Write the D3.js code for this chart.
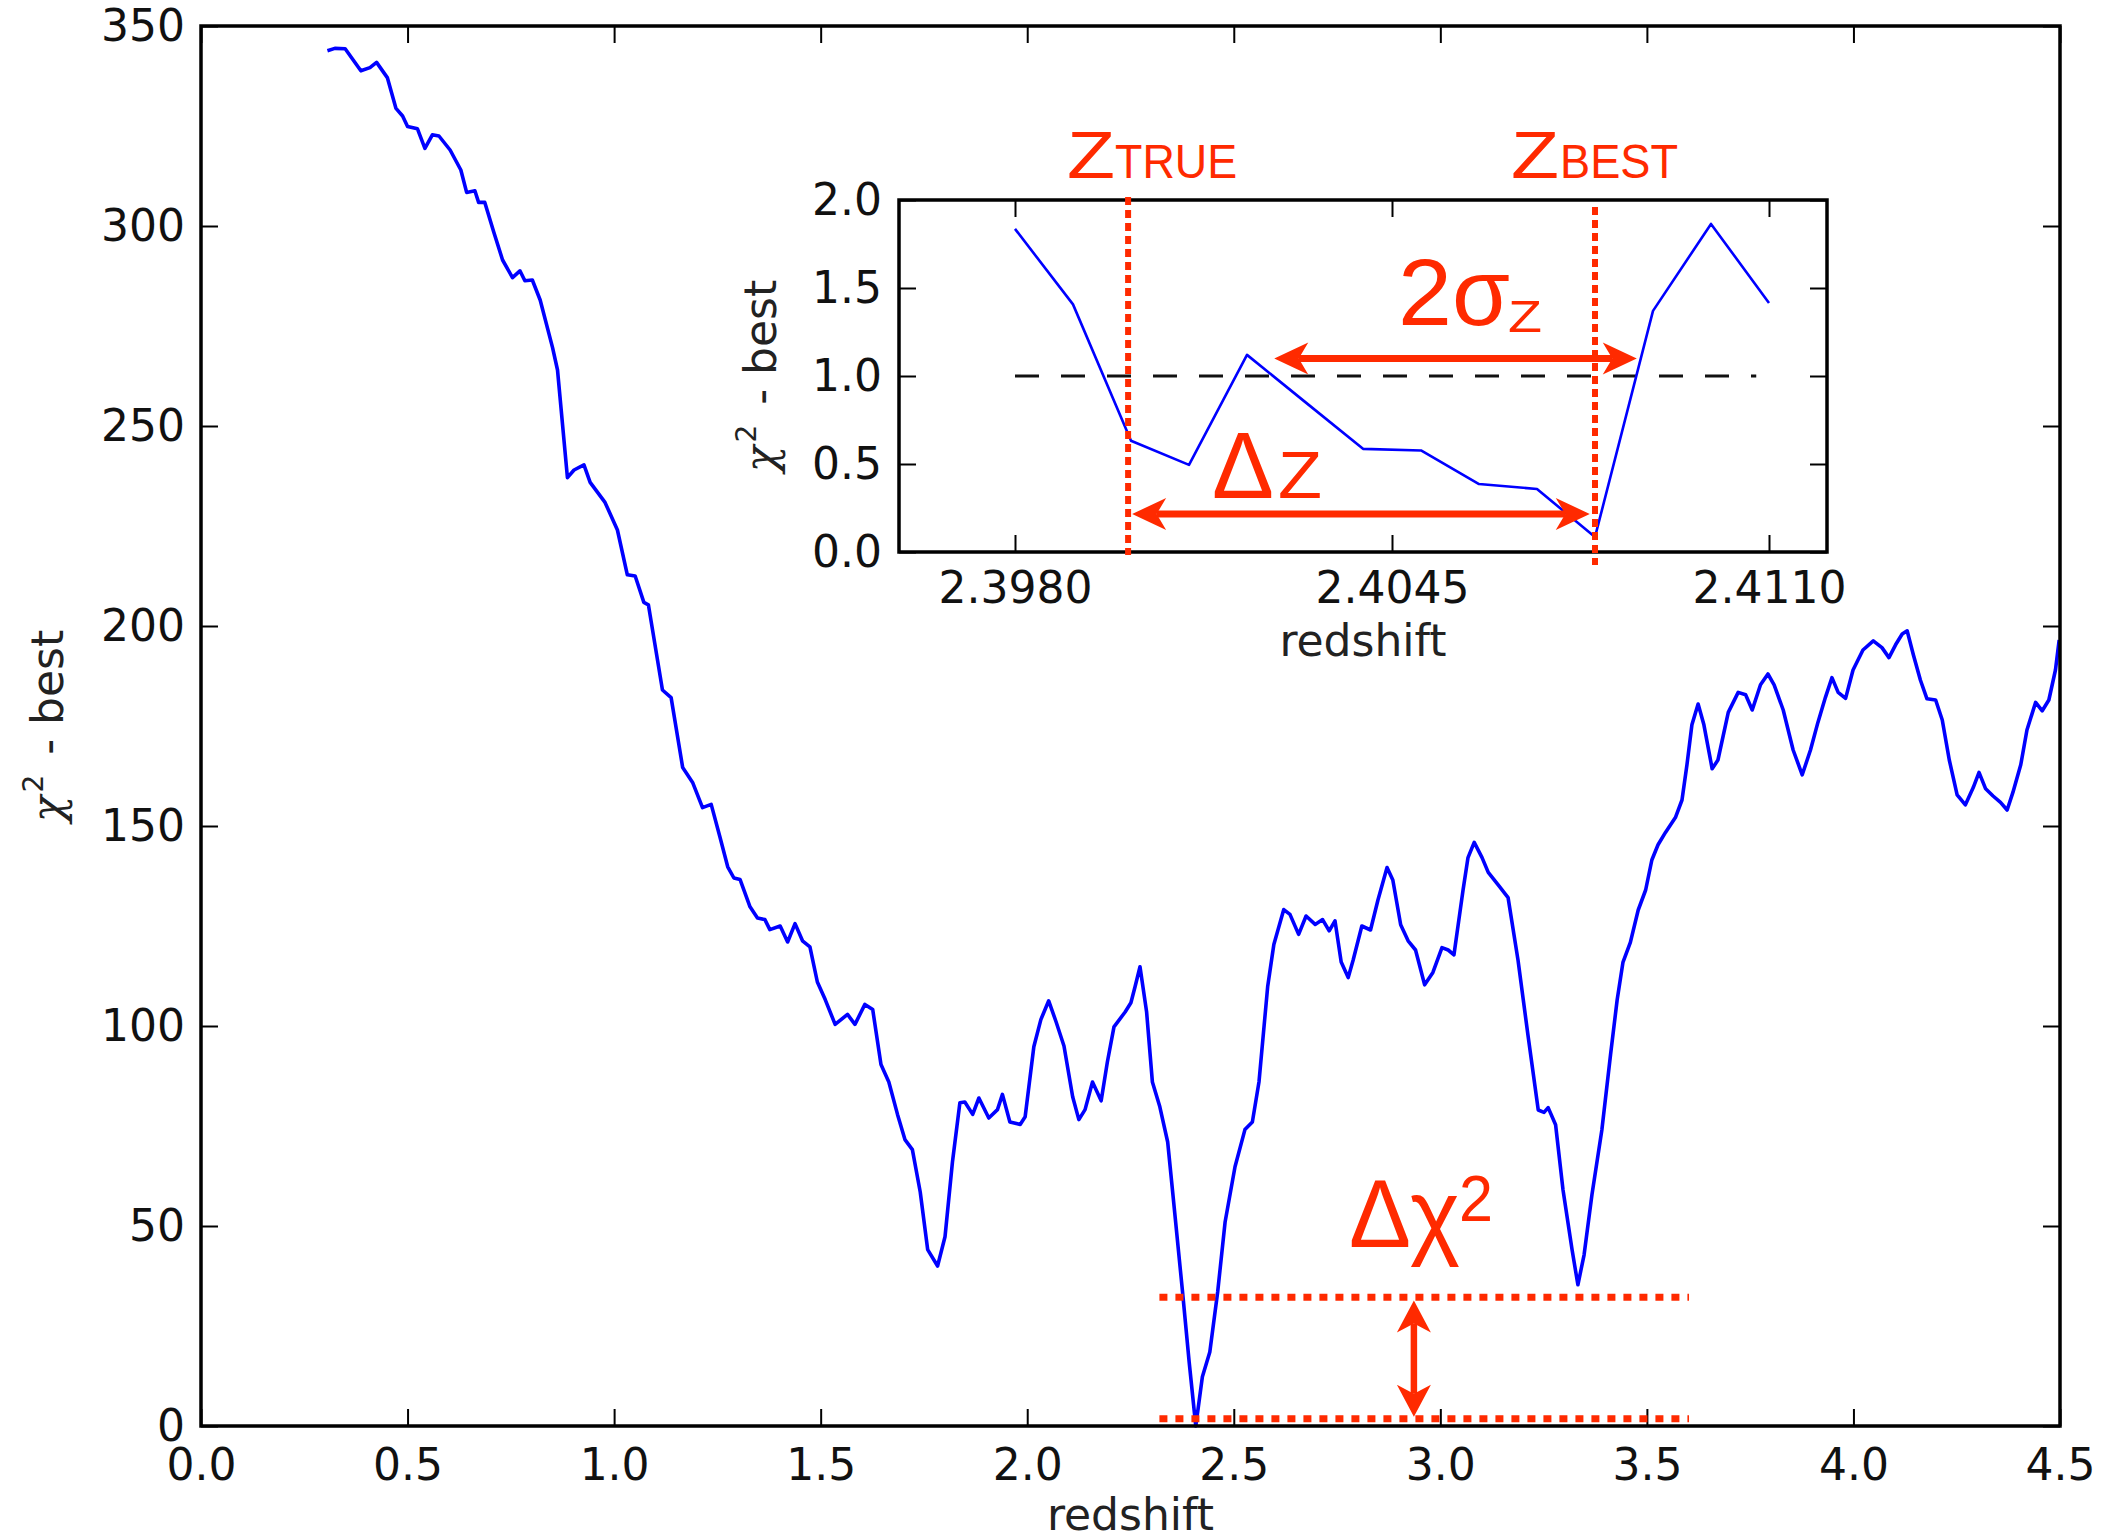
<!DOCTYPE html>
<html><head><meta charset="utf-8">
<script src="https://cdn.jsdelivr.net/npm/d3@7"></script>
<style>html,body{margin:0;padding:0;background:#fff}svg{display:block}</style>
</head><body>
<svg id="c" width="2127" height="1539"></svg>
<script>
// ---------- data ----------
const mainZ = [0.306,0.324,0.349,0.387,0.409,0.425,0.451,0.472,0.488,0.500,0.524,0.542,0.560,0.576,0.603,0.629,0.643,0.663,0.672,0.687,0.709,0.730,0.754,0.772,0.784,0.802,0.821,0.851,0.863,0.887,0.903,0.927,0.942,0.978,1.008,1.032,1.051,1.072,1.083,1.117,1.138,1.166,1.190,1.214,
1.235,1.256,1.275,1.290,1.305,1.329,1.347,1.365,1.377,1.402,1.420,1.438,1.456,1.474,1.492,1.511,1.535,1.565,1.583,1.607,1.626,1.646,1.665,1.686,1.704,1.722,1.741,1.759,1.783,1.801,1.819,1.837,1.849,1.868,1.883,1.907,1.928,1.940,1.958,1.983,1.995,2.016,2.033,2.052,2.070,2.089,2.110,2.125,2.140,2.158,2.179,2.194,2.210,2.237,2.251,2.261,2.273,2.289,2.303,2.321,2.340,2.358,2.376,2.392,2.408,2.424,2.442,2.461,2.479,2.503,2.527,2.545,2.561,2.582,2.597,2.621,2.636,2.657,2.675,2.697,2.715,2.731,2.745,2.760,
2.777,2.789,2.810,2.831,2.849,2.871,2.885,2.904,2.922,2.940,2.962,2.982,3.004,3.019,3.033,3.055,3.067,3.082,3.101,3.116,3.140,3.164,3.188,3.212,3.237,3.251,3.261,3.279,3.297,3.319,3.333,3.348,3.367,3.391,3.412,3.428,3.442,3.460,3.479,3.497,3.512,3.527,3.545,3.569,3.585,3.597,3.609,3.624,3.638,3.658,3.672,3.697,3.721,3.739,3.755,3.775,3.793,3.808,3.830,3.854,3.876,3.896,3.914,3.932,3.948,3.963,3.981,3.999,4.023,4.048,4.069,4.086,4.102,4.118,4.130,4.145,4.162,4.178,4.199,4.215,4.232,4.251,4.271,4.290,4.304,4.320,4.338,4.356,4.372,4.386,4.405,4.420,4.441,4.457,4.473,4.489,4.498];
const mainChi2 = [343.8,344.4,344.3,338.8,339.6,340.9,337.1,329.4,327.5,324.9,324.3,319.4,322.8,322.5,319.0,314.0,308.4,308.8,305.9,305.9,298.4,291.5,287.1,288.8,286.3,286.5,281.5,269.6,264.0,237.1,239.0,240.3,235.9,230.9,224.0,212.8,212.5,205.9,205.3,184.0,182.1,164.6,160.9,154.6,
155.4,147.3,139.8,137.0,136.6,129.8,127.0,126.6,124.1,125.0,121.0,125.6,121.3,119.8,111.0,106.6,100.4,102.9,100.4,105.4,104.1,90.4,86.0,77.9,71.6,69.1,58.5,44.1,40.0,47.3,66.0,80.8,81.0,77.9,82.0,77.0,79.1,82.9,76.0,75.4,77.3,94.8,101.6,106.3,101.0,95.0,82.3,76.6,79.1,86.0,81.3,91.0,99.8,103.5,105.8,109.8,114.8,103.5,86.0,79.8,71.0,52.3,33.5,16.0,0.0,12.3,18.5,33.5,51.0,64.8,74.1,76.0,86.0,109.8,120.4,129.1,127.9,122.9,127.5,125.4,126.6,123.8,126.3,116.0,
112.1,116.5,125.0,124.0,131.5,139.6,136.5,125.3,121.3,119.0,110.3,113.4,119.6,119.0,117.8,134.0,142.1,145.9,142.1,138.4,135.3,132.1,116.5,97.8,79.0,78.4,79.6,75.3,59.0,44.0,35.3,42.8,57.8,74.0,92.8,106.5,115.9,120.9,129.0,134.0,141.5,145.3,148.4,152.1,156.5,165.3,175.3,180.5,175.3,164.3,166.5,178.4,183.4,182.8,179.0,185.3,188.0,185.3,179.0,169.0,162.8,169.0,175.9,182.1,187.1,183.4,181.9,189.0,194.0,196.3,194.6,192.1,195.3,198.0,198.8,192.8,186.5,181.8,181.5,176.5,166.5,157.8,155.3,159.6,163.4,159.3,157.5,155.9,154.0,158.4,165.3,174.0,180.9,178.8,181.5,189.0,196.5];

const insetZ    = [2.398,2.399,2.400,2.401,2.402,2.403,2.404,2.405,2.406,2.407,2.408,2.409,2.410,2.411];
const insetChi2 = [1.836,1.407,0.632,0.495,1.120,0.853,0.586,0.577,0.386,0.358,0.085,1.370,1.864,1.415];

const mainXTicks  = [0,0.5,1,1.5,2,2.5,3,3.5,4,4.5];
const mainYTicks  = [0,50,100,150,200,250,300,350];
const insetXTicks = [2.398,2.4045,2.411];
const insetYTicks = [0,0.5,1,1.5,2];

const oneSigmaLevel = 1.0;
const zTrue = 2.39995, zBest = 2.408;
const sigmaArrowZ = [2.40247, 2.40872], sigmaArrowLevel = 1.10;
const deltaZArrowZ = [2.40002, 2.40791], deltaZArrowLevel = 0.216;
const dChi2Levels = [32.2, 1.8], dChi2SpanZ = [2.32, 3.602];
const dChi2ArrowZ = 2.936, dChi2ArrowLevels = [31.4, 2.3];

// ---------- setup ----------
const RED = "#ff2a00";
const svg = d3.select("#c");
const FONT = "DejaVu Sans";
const AFONT = "Liberation Sans, Arial, Helvetica, sans-serif";

const x = d3.scaleLinear().domain([0,4.5]).range([201,2060]);
const y = d3.scaleLinear().domain([0,350]).range([1426,26]);
const xi = d3.scaleLinear().domain([2.396,2.412]).range([899,1827]);
const yi = d3.scaleLinear().domain([0,2]).range([552,200]);

function styleAxis(g){
  g.select(".domain").remove();
  g.attr("font-family",FONT).attr("font-size",44);
  g.selectAll(".tick line").attr("stroke","#000").attr("stroke-width",2);
  g.selectAll(".tick text").attr("fill","#111");
}
function frame(sx, sy, ticksX, ticksY, fx, fy, padX, padY){
  const [x0,x1]=sx.range(), [y0,y1]=sy.range();
  const TS = -17;
  styleAxis(svg.append("g").attr("transform",`translate(0,${y0})`)
    .call(d3.axisBottom(sx).tickValues(ticksX).tickSize(TS).tickPadding(padX).tickFormat(fx)));
  styleAxis(svg.append("g").attr("transform",`translate(0,${y1})`)
    .call(d3.axisTop(sx).tickValues(ticksX).tickSize(TS).tickFormat("")));
  styleAxis(svg.append("g").attr("transform",`translate(${x0},0)`)
    .call(d3.axisLeft(sy).tickValues(ticksY).tickSize(TS).tickPadding(padY).tickFormat(fy)));
  styleAxis(svg.append("g").attr("transform",`translate(${x1},0)`)
    .call(d3.axisRight(sy).tickValues(ticksY).tickSize(TS).tickFormat("")));
  svg.append("rect").attr("x",x0).attr("y",y1).attr("width",x1-x0).attr("height",y0-y1)
    .attr("fill","none").attr("stroke","#000").attr("stroke-width",3.5);
}
function chiLabel(tx, ty){
  const t = svg.append("text").attr("transform",`translate(${tx},${ty}) rotate(-90)`)
    .attr("text-anchor","middle").attr("font-family",FONT).attr("font-size",44).attr("fill","#222");
  t.append("tspan").attr("font-family","DejaVu Serif").attr("font-style","italic").attr("font-weight",300).text("χ");
  t.append("tspan").attr("font-size",28).attr("dy",-20).attr("dx",3).text("2");
  t.append("tspan").attr("dy",20).attr("dx",6).text(" - best");
}
function doubleArrow(p1, p2, len, hw, lw){
  const dx=p2[0]-p1[0], dy=p2[1]-p1[1], L=Math.hypot(dx,dy), ux=dx/L, uy=dy/L, nx=-uy, ny=ux;
  const notch = len*0.72;
  svg.append("line")
    .attr("x1",p1[0]+ux*notch).attr("y1",p1[1]+uy*notch)
    .attr("x2",p2[0]-ux*notch).attr("y2",p2[1]-uy*notch)
    .attr("stroke",RED).attr("stroke-width",lw);
  function head(tip, d){
    const bx=tip[0]+d[0]*len, by=tip[1]+d[1]*len;
    const pts=[tip,[bx+nx*hw,by+ny*hw],[tip[0]+d[0]*notch,tip[1]+d[1]*notch],[bx-nx*hw,by-ny*hw]];
    svg.append("path").attr("d",d3.line()(pts)+"Z").attr("fill",RED);
  }
  head(p1,[ux,uy]); head(p2,[-ux,-uy]);
}
function atext(txt, px, py, size, len){
  const t = svg.append("text").attr("x",px).attr("y",py).attr("font-family",AFONT)
    .attr("font-size",size).attr("fill",RED).text(txt);
  if(len) t.attr("textLength",len).attr("lengthAdjust","spacingAndGlyphs");
  return t;
}

// ---------- main plot ----------
const mainData = mainZ.map((z,i)=>[z,mainChi2[i]]);
svg.append("path").datum(mainData)
  .attr("d", d3.line().x(d=>x(d[0])).y(d=>y(d[1])))
  .attr("fill","none").attr("stroke","#0000ff").attr("stroke-width",3.6).attr("stroke-linejoin","round");

frame(x, y, mainXTicks, mainYTicks, d3.format(".1f"), d3.format("d"), 23, 16);

svg.append("text").attr("x",(x.range()[0]+x.range()[1])/2).attr("y",1530)
  .attr("text-anchor","middle").attr("font-family",FONT).attr("font-size",44).attr("fill","#222").text("redshift");
chiLabel(63, (y.range()[0]+y.range()[1])/2);

// Δχ² annotation
dChi2Levels.forEach(v=>{
  svg.append("line").attr("x1",x(dChi2SpanZ[0])).attr("x2",x(dChi2SpanZ[1]))
    .attr("y1",y(v)).attr("y2",y(v)).attr("stroke",RED).attr("stroke-width",7)
    .attr("stroke-dasharray","8,8");
});
doubleArrow([x(dChi2ArrowZ),y(dChi2ArrowLevels[0])],[x(dChi2ArrowZ),y(dChi2ArrowLevels[1])],32,17,6.5);
{
  const ax = x(dChi2ArrowZ);
  atext("Δ", ax-65, 1247, 97, 62);
  atext("χ", ax-4, 1247, 97, 50);
  atext("2", ax+45, 1221, 64, 34);
}

// ---------- inset ----------
svg.append("rect").attr("x",899).attr("y",200).attr("width",928).attr("height",352).attr("fill","#fff");
svg.append("line").attr("x1",xi(insetZ[0])).attr("x2",xi(2.41078))
  .attr("y1",yi(oneSigmaLevel)).attr("y2",yi(oneSigmaLevel))
  .attr("stroke","#111").attr("stroke-width",3).attr("stroke-dasharray","24,22");
const insetData = insetZ.map((z,i)=>[z,insetChi2[i]]);
svg.append("path").datum(insetData)
  .attr("d", d3.line().x(d=>xi(d[0])).y(d=>yi(d[1])))
  .attr("fill","none").attr("stroke","#0000ff").attr("stroke-width",2.6).attr("stroke-linejoin","round");

frame(xi, yi, insetXTicks, insetYTicks, d3.format(".4f"), d3.format(".1f"), 20, 17);

svg.append("text").attr("x",(xi.range()[0]+xi.range()[1])/2).attr("y",656)
  .attr("text-anchor","middle").attr("font-family",FONT).attr("font-size",44).attr("fill","#222").text("redshift");
chiLabel(776, (yi.range()[0]+yi.range()[1])/2);

// z_true / z_best dotted lines
[[zTrue,197,555],[zBest,207,565]].forEach(([z,a,b])=>{
  svg.append("line").attr("x1",xi(z)).attr("x2",xi(z)).attr("y1",a).attr("y2",b)
    .attr("stroke",RED).attr("stroke-width",6).attr("stroke-dasharray","8,5");
});
// labels
{
  const t = xi(zTrue), b = xi(zBest);
  atext("Z", t-61, 178, 67, 48);
  atext("TRUE", t-13, 178, 49, 122);
  atext("Z", b-84, 178, 67, 48);
  atext("BEST", b-35, 178, 49, 118);
}
// arrows
doubleArrow([xi(sigmaArrowZ[0]),yi(sigmaArrowLevel)],[xi(sigmaArrowZ[1]),yi(sigmaArrowLevel)],34,16,7);
doubleArrow([xi(deltaZArrowZ[0]),yi(deltaZArrowLevel)],[xi(deltaZArrowZ[1]),yi(deltaZArrowLevel)],34,16,7);
{
  atext("2", 1398, 325, 95, 54);
  atext("σ", 1452, 325, 95, 58);
  atext("Z", 1508, 332, 45, 34);
  atext("Δ", 1212, 498, 94, 62);
  atext("Z", 1278, 498, 67, 44);
}
</script>
</body></html>
